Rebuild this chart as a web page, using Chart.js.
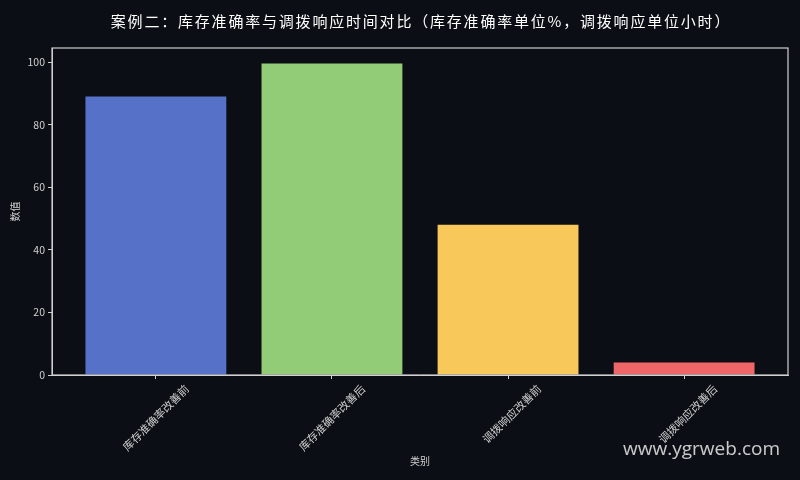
<!DOCTYPE html>
<html>
<head>
<meta charset="utf-8">
<script src="https://cdn.jsdelivr.net/npm/chart.js@4.4.0/dist/chart.umd.min.js"></script>
<style>
    html, body { margin: 0; padding: 0; background: #0b0e14; overflow: hidden; }
    canvas { display: block; }
</style>
</head>
<body>
<canvas id="chart" width="800" height="480"></canvas>
<script>
const categories = ['库存准确率改善前', '库存准确率改善后', '调拨响应改善前', '调拨响应改善后'];
const values = [89, 99.5, 48, 4];
const barColors = ['#5571c8', '#92cc76', '#f9c85a', '#ee6667'];
const yTicks = [0, 20, 40, 60, 80, 100];

const titleText = '案例二：库存准确率与调拨响应时间对比（库存准确率单位%，调拨响应单位小时）';
const cjk = '"Noto Sans CJK SC", "DejaVu Sans", sans-serif';
const axisColor = '#d0d0d0';

// background, spines, title, axis titles, watermark
const decorPlugin = {
    id: 'decor',
    beforeDraw(chart) {
        const ctx = chart.ctx;
        ctx.save();
        ctx.fillStyle = '#0b0e14';
        ctx.fillRect(0, 0, chart.width, chart.height);
        ctx.restore();
    },
    afterDraw(chart) {
        const ctx = chart.ctx;
        const a = chart.chartArea;
        ctx.save();
        ctx.strokeStyle = axisColor;
        ctx.lineWidth = 1.2;
        ctx.strokeRect(a.left, a.top, a.right - a.left, a.bottom - a.top);

        ctx.fillStyle = '#ffffff';
        ctx.font = '15px ' + cjk;
        ctx.textAlign = 'center';
        ctx.textBaseline = 'middle';
        if ('letterSpacing' in ctx) ctx.letterSpacing = '1.8px';
        ctx.fillText(titleText, (a.left + a.right) / 2 + 1, 21);
        if ('letterSpacing' in ctx) ctx.letterSpacing = '0px';

        ctx.fillStyle = axisColor;
        ctx.font = '10px ' + cjk;
        ctx.fillText('类别', (a.left + a.right) / 2, 461);
        ctx.save();
        ctx.translate(15, (a.top + a.bottom) / 2);
        ctx.rotate(-Math.PI / 2);
        ctx.fillText('数值', 0, 0);
        ctx.restore();

        ctx.fillStyle = 'rgba(235,235,235,0.85)';
        ctx.font = '19px "Open Sans", "DejaVu Sans", sans-serif';
        ctx.textAlign = 'right';
        ctx.textBaseline = 'alphabetic';
        ctx.fillText('www.ygrweb.com', 780, 455);
        ctx.restore();
    }
};

new Chart(document.getElementById('chart'), {
    type: 'bar',
    data: {
        datasets: [{
            data: values.map((v, i) => ({ x: i, y: v })),
            backgroundColor: barColors,
            borderWidth: 0,
            categoryPercentage: 0.8,
            barPercentage: 1.0
        }]
    },
    options: {
        responsive: false,
        animation: false,
        devicePixelRatio: 1,
        layout: { padding: { top: 48, right: 12, left: 0, bottom: 0 } },
        plugins: {
            legend: { display: false },
            tooltip: { enabled: false }
        },
        scales: {
            x: {
                type: 'linear',
                min: -0.59,
                max: 3.59,
                offset: false,
                afterBuildTicks(scale) {
                    scale.ticks = categories.map((c, i) => ({ value: i }));
                },
                afterFit(scale) { scale.height = 105; },
                grid: { display: true, offset: false, drawOnChartArea: false, color: axisColor, tickLength: 4 },
                border: { display: true, color: axisColor },
                ticks: {
                    color: axisColor,
                    font: { size: 11, family: cjk },
                    minRotation: 45,
                    maxRotation: 45,
                    padding: 3,
                    labelOffset: 31,
                    autoSkip: false,
                    callback: (v) => categories[v]
                }
            },
            y: {
                min: 0,
                max: 104.475,
                afterBuildTicks(scale) {
                    scale.ticks = yTicks.map(v => ({ value: v }));
                },
                afterFit(scale) { scale.width = 52; },
                grid: { display: true, drawOnChartArea: false, color: axisColor, tickLength: 4 },
                border: { display: true, color: axisColor },
                ticks: {
                    color: axisColor,
                    font: { size: 10.5, family: cjk },
                    padding: 3
                }
            }
        }
    },
    plugins: [decorPlugin]
});
</script>
</body>
</html>
